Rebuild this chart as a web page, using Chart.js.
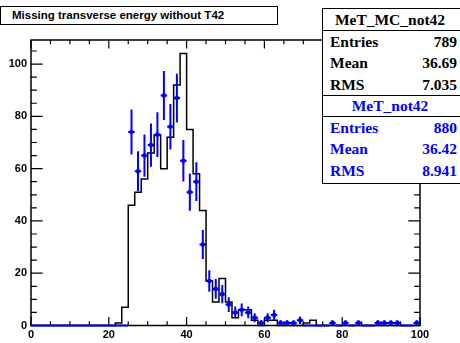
<!DOCTYPE html>
<html>
<head>
<meta charset="utf-8">
<script src="https://cdn.jsdelivr.net/npm/chart.js@4.4.0/dist/chart.umd.min.js"></script>
<style>
  html, body { margin: 0; padding: 0; background: #fff; }
  #wrap { position: relative; width: 460px; height: 343px; overflow: hidden; background: #fff; }
  #wrap canvas { position: absolute; left: 0; top: 0; }
  .titleBox {
    position: absolute; left: 0; top: 6px; width: 278px; height: 19px;
    box-sizing: border-box; border: 1px solid #000; background: #fff;
    font: bold 11.5px "Liberation Sans", Arial, sans-serif; line-height: 17px;
    padding-left: 11px; white-space: nowrap;
  }
  .stat {
    position: absolute; left: 322px; width: 146px; box-sizing: border-box;
    border: 1.5px solid #000; background: #fff;
    font: bold 15.5px "Liberation Serif", "Times New Roman", serif;
  }
  .stat .hd { text-align: center; border-bottom: 1.5px solid #000; box-sizing: border-box; padding-right: 10px; }
  .stat .row { display: flex; justify-content: space-between; padding: 0 10px 0 7px; box-sizing: border-box; height: 21.3px; line-height: 21.3px; }
  .blue { color: #0000ff; }
</style>
</head>
<body>
<div id="wrap">
  <canvas id="histo" width="460" height="343"></canvas>
  <div class="titleBox">Missing transverse energy without T42</div>
  <div class="stat" style="top:8px;height:89px;">
    <div class="hd" style="height:22px;line-height:21px;">MeT_MC_not42</div>
    <div class="row"><span>Entries</span><span>789</span></div>
    <div class="row"><span>Mean</span><span>36.69</span></div>
    <div class="row"><span>RMS</span><span>7.035</span></div>
  </div>
  <div class="stat blue" style="top:95px;height:89px;">
    <div class="hd" style="height:21px;line-height:20px;">MeT_not42</div>
    <div class="row"><span>Entries</span><span>880</span></div>
    <div class="row"><span>Mean</span><span>36.42</span></div>
    <div class="row"><span>RMS</span><span>8.941</span></div>
  </div>
</div>
<script>
// Histograma: 60 bins entre 0 y 100
const xLow = 0;
const xHigh = 100;
const nBins = 60;

// MC (normalizado a los datos), contenido por bin
const mcValues = [
  0, 0, 0, 0, 0, 0, 0, 0, 0, 0,
  0, 0, 0, 1, 7, 46, 51, 56, 66, 73,
  60, 72, 92, 104, 75, 58, 44, 17, 9, 18,
  9, 3, 6, 6, 2, 0, 2, 2, 0, 0,
  0, 0, 1, 2, 0, 0, 0, 0, 0, 0,
  0, 0, 0, 0, 0, 0, 0, 0, 0, 0
];

// Datos, contenido por bin
const dataValues = [
  0, 0, 0, 0, 0, 0, 0, 0, 0, 0,
  0, 0, 0, 0, 0, 74, 59, 65, 69, 73,
  88, 76, 87, 63, 51, 55, 31, 17, 14, 12,
  8, 5, 6, 5, 3, 1, 3, 4, 1, 1,
  1, 2, 0, 0, 0, 0, 1, 0, 1, 0,
  1, 0, 0, 1, 1, 1, 1, 0, 0, 1
];

const xTicks = [0, 20, 40, 60, 80, 100];
const yTicks = [0, 20, 40, 60, 80, 100];
const minorStep = 5;

const binWidth = (xHigh - xLow) / nBins;
const yMax = 1.05 * Math.max(...mcValues);

// Contorno del MC: un punto en el borde izquierdo de cada bin
const mcPoints = mcValues.map((v, i) => ({ x: xLow + i * binWidth, y: v }));
mcPoints.push({ x: xHigh, y: mcValues[nBins - 1] });

const dataPoints = dataValues.map((v, i) => ({ x: xLow + (i + 0.5) * binWidth, y: v }));

const fontTicks = { family: 'Liberation Sans', weight: 'bold', size: 11 };

// Marco, marcas de los ejes y barras de error al estilo ROOT
const rootStyle = {
  id: 'rootStyle',
  beforeDatasetsDraw(chart) {
    const { ctx, chartArea: a, scales: { x, y } } = chart;
    ctx.save();
    ctx.strokeStyle = '#000';
    ctx.lineWidth = 1.5;
    ctx.strokeRect(a.left, a.top, a.right - a.left, a.bottom - a.top);
    ctx.lineWidth = 1.2;
    const xLen = 0.03 * (a.bottom - a.top);
    const yLen = 0.03 * (a.right - a.left);
    ctx.beginPath();
    for (let v = xLow; v <= xHigh + 1e-9; v += minorStep) {
      const L = xTicks.includes(v) ? xLen : xLen / 2;
      const px = x.getPixelForValue(v);
      ctx.moveTo(px, a.bottom); ctx.lineTo(px, a.bottom - L);
      ctx.moveTo(px, a.top); ctx.lineTo(px, a.top + L);
    }
    for (let v = 0; v <= yMax; v += minorStep) {
      const L = yTicks.includes(v) ? yLen : yLen / 2;
      const py = y.getPixelForValue(v);
      ctx.moveTo(a.left, py); ctx.lineTo(a.left + L, py);
      ctx.moveTo(a.right, py); ctx.lineTo(a.right - L, py);
    }
    ctx.stroke();
    ctx.restore();
  },
  beforeDatasetDraw(chart, args) {
    if (args.meta.label !== 'MeT_not42') return;
    const { ctx, scales: { x, y } } = chart;
    ctx.save();
    ctx.strokeStyle = '#0000ff';
    ctx.lineWidth = 2;
    ctx.beginPath();
    dataPoints.forEach(p => {
      const err = Math.sqrt(p.y);
      const px = x.getPixelForValue(p.x);
      const py = y.getPixelForValue(p.y);
      ctx.moveTo(x.getPixelForValue(p.x - binWidth / 2), py);
      ctx.lineTo(x.getPixelForValue(p.x + binWidth / 2), py);
      if (err > 0) {
        ctx.moveTo(px, y.getPixelForValue(p.y - err));
        ctx.lineTo(px, y.getPixelForValue(p.y + err));
      }
    });
    ctx.stroke();
    ctx.restore();
  }
};

new Chart(document.getElementById('histo'), {
  type: 'line',
  data: {
    datasets: [
      {
        label: 'MeT_not42',
        data: dataPoints,
        showLine: false,
        pointRadius: dataValues.map(v => v > 0 ? 2.3 : 0),
        pointBackgroundColor: '#0000ff',
        pointBorderColor: '#0000ff',
        pointBorderWidth: 0,
        clip: false,
        order: 1
      },
      {
        label: 'MeT_MC_not42',
        data: mcPoints,
        stepped: 'before',
        borderColor: '#000',
        borderWidth: 1.5,
        pointRadius: 0,
        fill: false,
        clip: false,
        order: 2
      }
    ]
  },
  options: {
    responsive: false,
    animation: false,
    devicePixelRatio: 1,
    layout: { padding: { top: 40, right: 40, left: 0, bottom: 0 } },
    plugins: {
      legend: { display: false },
      tooltip: { enabled: false },
      title: { display: false }
    },
    scales: {
      x: {
        type: 'linear',
        min: xLow,
        max: xHigh,
        grid: { display: false, drawTicks: false },
        border: { display: false },
        ticks: { color: '#000', font: fontTicks, padding: 3, maxRotation: 0 },
        afterBuildTicks: s => { s.ticks = xTicks.map(v => ({ value: v })); },
        afterFit: s => { s.height = 17.5; }
      },
      y: {
        type: 'linear',
        min: 0,
        max: yMax,
        grid: { display: false, drawTicks: false },
        border: { display: false },
        ticks: { color: '#000', font: fontTicks, padding: 4 },
        afterBuildTicks: s => { s.ticks = yTicks.map(v => ({ value: v })); },
        afterFit: s => { s.width = 31; }
      }
    }
  },
  plugins: [rootStyle]
});
</script>
</body>
</html>
